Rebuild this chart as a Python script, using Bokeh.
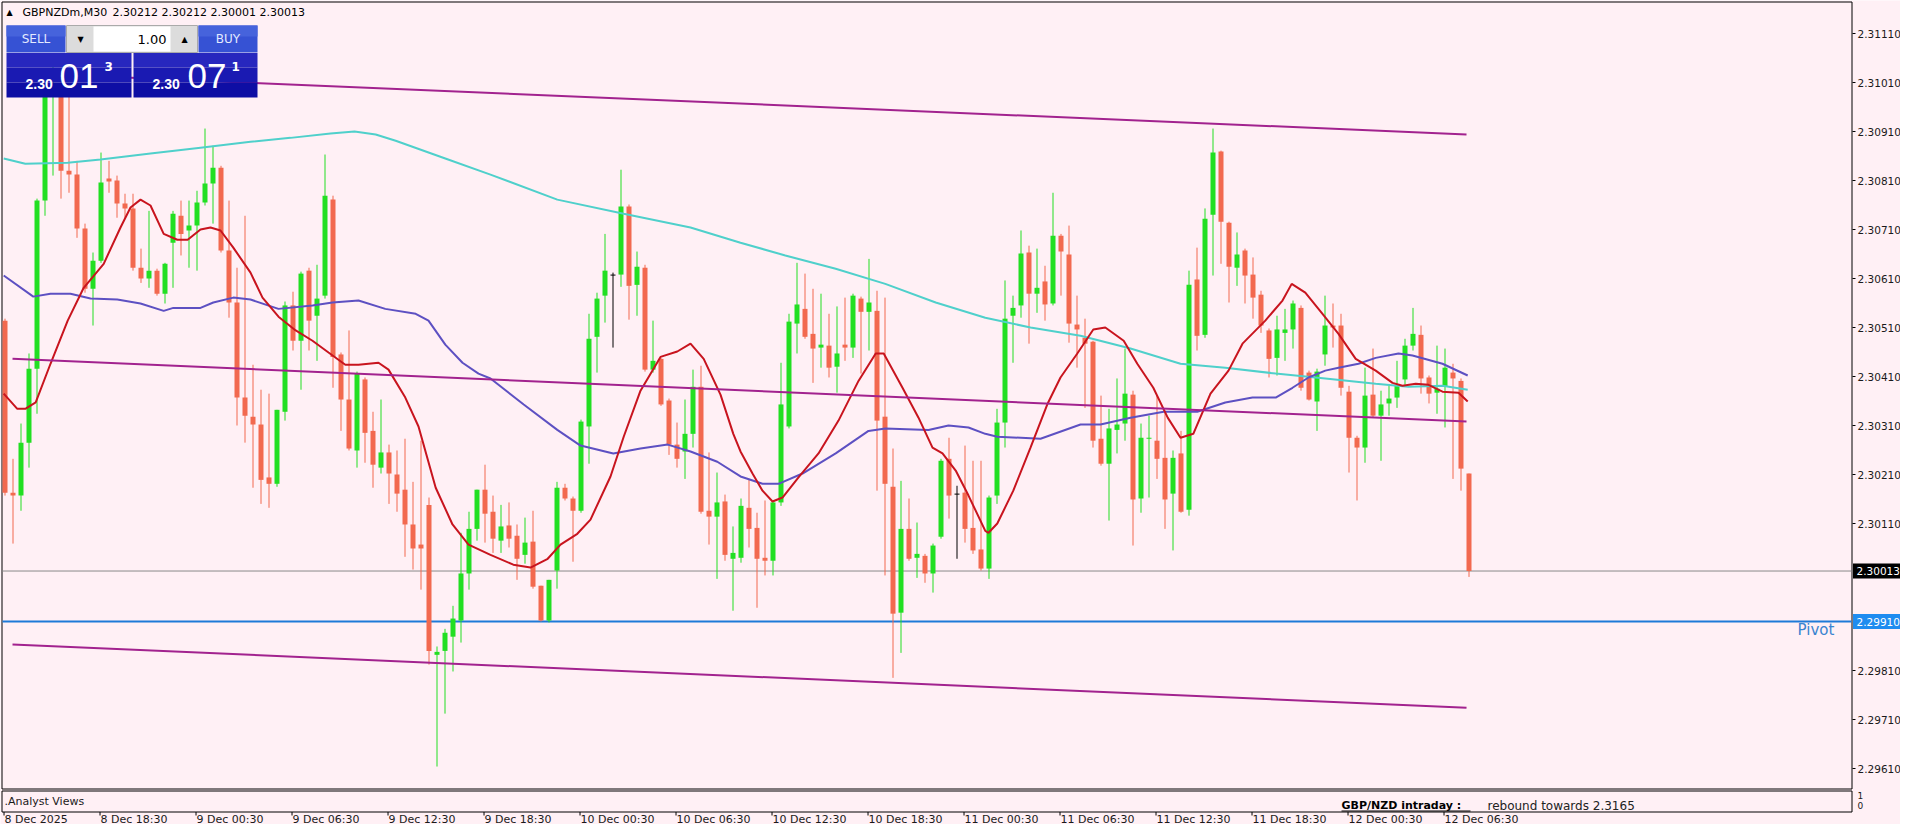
import numpy as np
from bokeh.plotting import figure
from bokeh.models import Range1d, ColumnDataSource
from bokeh.core.properties import value
from bokeh.embed import file_html
from bokeh.resources import INLINE

# ---------------- data ----------------
symbol = "GBPNZDm,M30"

open_ = [2.30524, 2.30173, 2.30167, 2.30275, 2.30426, 2.30769, 2.30993, 2.30997, 2.30830, 2.30822,
         2.30712, 2.30589, 2.30646, 2.30814, 2.30810, 2.30763, 2.30753, 2.30632, 2.30610, 2.30626,
         2.30579, 2.30683, 2.30738, 2.30708, 2.30718, 2.30765, 2.30804, 2.30836, 2.30667, 2.30561,
         2.30367, 2.30328, 2.30312, 2.30204, 2.30191, 2.30338, 2.30555, 2.30483, 2.30626, 2.30534,
         2.30575, 2.30771, 2.30455, 2.30363, 2.30259, 2.30404, 2.30299, 2.30224, 2.30255, 2.30210,
         2.30179, 2.30108, 2.30067, 2.30148, 2.29842, 2.29850, 2.29879, 2.29912, 2.30008, 2.30099,
         2.30179, 2.30134, 2.30075, 2.30106, 2.30085, 2.30046, 2.30073, 2.29983, 2.29912, 2.30014,
         2.30183, 2.30161, 2.30136, 2.30308, 2.30491, 2.30575, 2.30618, 2.30618, 2.30757, 2.30597,
         2.30632, 2.30424, 2.30446, 2.30361, 2.30271, 2.30257, 2.30293, 2.30389, 2.30136, 2.30124,
         2.30155, 2.30038, 2.30040, 2.30142, 2.30101, 2.30040, 2.30034, 2.30153, 2.30308, 2.30518,
         2.30548, 2.30497, 2.30469, 2.30473, 2.30430, 2.30475, 2.30469, 2.30569, 2.30542, 2.30544,
         2.30328, 2.30185, 2.29928, 2.30099, 2.30040, 2.30044, 2.30008, 2.30083, 2.30242, 2.30171,
         2.30173, 2.30101, 2.30057, 2.30018, 2.30167, 2.30316, 2.30534, 2.30555, 2.30663, 2.30579,
         2.30604, 2.30559, 2.30697, 2.30659, 2.30516, 2.30489, 2.30481, 2.30283, 2.30232, 2.30301,
         2.30314, 2.30373, 2.30161, 2.30283, 2.30279, 2.30244, 2.30171, 2.30253, 2.30138, 2.30608,
         2.30495, 2.30740, 2.30869, 2.30724, 2.30632, 2.30667, 2.30618, 2.30577, 2.30504, 2.30448,
         2.30499, 2.30506, 2.30550, 2.30418, 2.30359, 2.30455, 2.30514, 2.30514, 2.30379, 2.30285,
         2.30265, 2.30373, 2.30330, 2.30355, 2.30367, 2.30404, 2.30473, 2.30495, 2.30408, 2.30377,
         2.30389, 2.30418, 2.30401, 2.30212]

high = [2.30528, 2.30242, 2.30314, 2.30457, 2.30773, 2.31034, 2.31044, 2.31014, 2.30983, 2.30850,
        2.30722, 2.30663, 2.30867, 2.30850, 2.30820, 2.30783, 2.30783, 2.30671, 2.30748, 2.30630,
        2.30642, 2.30748, 2.30769, 2.30769, 2.30789, 2.30916, 2.30881, 2.30840, 2.30769, 2.30632,
        2.30738, 2.30434, 2.30383, 2.30375, 2.30342, 2.30563, 2.30583, 2.30624, 2.30632, 2.30638,
        2.30863, 2.30779, 2.30459, 2.30504, 2.30420, 2.30408, 2.30338, 2.30363, 2.30271, 2.30259,
        2.30283, 2.30195, 2.30279, 2.30163, 2.29859, 2.29895, 2.29942, 2.30091, 2.30134, 2.30179,
        2.30230, 2.30167, 2.30148, 2.30153, 2.30108, 2.30122, 2.30136, 2.29983, 2.29995, 2.30195,
        2.30191, 2.30165, 2.30322, 2.30538, 2.30581, 2.30701, 2.30622, 2.30832, 2.30761, 2.30665,
        2.30638, 2.30524, 2.30448, 2.30365, 2.30316, 2.30363, 2.30424, 2.30432, 2.30255, 2.30214,
        2.30169, 2.30104, 2.30161, 2.30201, 2.30132, 2.30157, 2.30157, 2.30438, 2.30538, 2.30642,
        2.30620, 2.30589, 2.30579, 2.30538, 2.30553, 2.30571, 2.30579, 2.30573, 2.30650, 2.30585,
        2.30571, 2.30263, 2.30197, 2.30161, 2.30112, 2.30048, 2.30069, 2.30242, 2.30285, 2.30187,
        2.30269, 2.30238, 2.30238, 2.30167, 2.30344, 2.30606, 2.30575, 2.30708, 2.30677, 2.30671,
        2.30636, 2.30785, 2.30701, 2.30718, 2.30575, 2.30528, 2.30483, 2.30371, 2.30344, 2.30406,
        2.30467, 2.30381, 2.30314, 2.30330, 2.30371, 2.30336, 2.30259, 2.30299, 2.30626, 2.30673,
        2.30753, 2.30916, 2.30871, 2.30726, 2.30704, 2.30671, 2.30653, 2.30585, 2.30508, 2.30534,
        2.30548, 2.30565, 2.30555, 2.30422, 2.30426, 2.30575, 2.30559, 2.30538, 2.30391, 2.30289,
        2.30428, 2.30467, 2.30381, 2.30391, 2.30442, 2.30487, 2.30550, 2.30514, 2.30412, 2.30473,
        2.30467, 2.30436, 2.30406, 2.30212]

low = [2.30167, 2.30069, 2.30136, 2.30224, 2.30334, 2.30738, 2.30820, 2.30773, 2.30785, 2.30693,
       2.30581, 2.30514, 2.30642, 2.30785, 2.30734, 2.30734, 2.30626, 2.30601, 2.30591, 2.30575,
       2.30559, 2.30591, 2.30657, 2.30632, 2.30626, 2.30759, 2.30722, 2.30663, 2.30530, 2.30310,
       2.30275, 2.30183, 2.30150, 2.30142, 2.30185, 2.30320, 2.30463, 2.30383, 2.30463, 2.30442,
       2.30569, 2.30387, 2.30299, 2.30259, 2.30224, 2.30234, 2.30183, 2.30212, 2.30150, 2.30134,
       2.30042, 2.30016, 2.29975, 2.29822, 2.29614, 2.29722, 2.29808, 2.29867, 2.29975, 2.30075,
       2.30071, 2.30050, 2.30050, 2.30061, 2.29995, 2.30028, 2.29977, 2.29910, 2.29908, 2.29977,
       2.30157, 2.30032, 2.30132, 2.30232, 2.30418, 2.30520, 2.30469, 2.30593, 2.30526, 2.30534,
       2.30420, 2.30418, 2.30350, 2.30250, 2.30224, 2.30201, 2.30265, 2.30130, 2.30067, 2.29997,
       2.30034, 2.29932, 2.30030, 2.30061, 2.29938, 2.30004, 2.30004, 2.30146, 2.30304, 2.30457,
       2.30487, 2.30397, 2.30428, 2.30408, 2.30377, 2.30442, 2.30448, 2.30416, 2.30463, 2.30177,
       2.30004, 2.29795, 2.29846, 2.30034, 2.29999, 2.29989, 2.29969, 2.30079, 2.30120, 2.30038,
       2.30071, 2.30048, 2.30014, 2.29997, 2.30150, 2.30265, 2.30438, 2.30530, 2.30477, 2.30540,
       2.30524, 2.30555, 2.30575, 2.30479, 2.30428, 2.30346, 2.30265, 2.30228, 2.30116, 2.30253,
       2.30279, 2.30065, 2.30132, 2.30163, 2.30201, 2.30099, 2.30055, 2.30132, 2.30126, 2.30463,
       2.30489, 2.30616, 2.30640, 2.30561, 2.30595, 2.30559, 2.30528, 2.30499, 2.30408, 2.30412,
       2.30442, 2.30467, 2.30381, 2.30361, 2.30299, 2.30432, 2.30469, 2.30371, 2.30214, 2.30157,
       2.30234, 2.30326, 2.30238, 2.30330, 2.30346, 2.30393, 2.30463, 2.30375, 2.30355, 2.30334,
       2.30306, 2.30201, 2.30177, 2.30001]

close = [2.30173, 2.30167, 2.30275, 2.30426, 2.30769, 2.30993, 2.31004, 2.30830, 2.30822, 2.30712,
         2.30589, 2.30646, 2.30806, 2.30808, 2.30763, 2.30753, 2.30632, 2.30610, 2.30626, 2.30579,
         2.30640, 2.30742, 2.30701, 2.30718, 2.30765, 2.30804, 2.30836, 2.30667, 2.30561, 2.30367,
         2.30330, 2.30312, 2.30199, 2.30191, 2.30342, 2.30555, 2.30483, 2.30620, 2.30524, 2.30569,
         2.30779, 2.30450, 2.30363, 2.30263, 2.30416, 2.30295, 2.30230, 2.30255, 2.30212, 2.30171,
         2.30108, 2.30059, 2.30059, 2.29850, 2.29848, 2.29887, 2.29916, 2.30008, 2.30099, 2.30179,
         2.30130, 2.30079, 2.30104, 2.30079, 2.30038, 2.30071, 2.29981, 2.29912, 2.29995, 2.30183,
         2.30161, 2.30136, 2.30318, 2.30487, 2.30569, 2.30626, 2.30618, 2.30757, 2.30595, 2.30634,
         2.30424, 2.30442, 2.30353, 2.30271, 2.30242, 2.30293, 2.30389, 2.30134, 2.30124, 2.30153,
         2.30046, 2.30050, 2.30146, 2.30099, 2.30038, 2.30034, 2.30153, 2.30353, 2.30522, 2.30557,
         2.30491, 2.30467, 2.30475, 2.30428, 2.30457, 2.30469, 2.30575, 2.30542, 2.30561, 2.30320,
         2.30191, 2.29926, 2.30099, 2.30038, 2.30048, 2.30008, 2.30065, 2.30238, 2.30167, 2.30171,
         2.30099, 2.30055, 2.30018, 2.30163, 2.30316, 2.30528, 2.30550, 2.30661, 2.30579, 2.30591,
         2.30557, 2.30697, 2.30665, 2.30518, 2.30506, 2.30477, 2.30279, 2.30232, 2.30304, 2.30312,
         2.30375, 2.30159, 2.30285, 2.30285, 2.30242, 2.30159, 2.30244, 2.30134, 2.30597, 2.30493,
         2.30732, 2.30867, 2.30726, 2.30634, 2.30659, 2.30616, 2.30571, 2.30514, 2.30446, 2.30506,
         2.30506, 2.30559, 2.30387, 2.30363, 2.30420, 2.30514, 2.30510, 2.30387, 2.30285, 2.30265,
         2.30371, 2.30330, 2.30353, 2.30365, 2.30391, 2.30473, 2.30497, 2.30406, 2.30375, 2.30385,
         2.30428, 2.30406, 2.30222, 2.30013]

# moving averages (bar position, price)
ma_fast_x = [-0.1, 1.6, 2.6, 3.9, 5.75, 7.9, 9.9, 12.4, 14.5, 15.75, 17, 18.25, 19.9, 21.6, 22.9, 24.5, 25.75, 27,
             28.6, 30.75, 32.25, 34.25, 36.4, 38.5, 40.5, 42.6, 44.25, 46.75, 48, 50.1, 51.75, 53.9, 56, 58,
             60.75, 63.6, 65.75, 67.9, 69.5, 71.6, 73.25, 75.75, 77.4, 79.5, 82, 84.1, 85.75, 87.4, 89.5, 91.1,
             92, 93.5, 94.75, 96, 97.25, 99.25, 101.75, 104.25, 106.75, 108.9, 109.9, 112.25, 114.25, 116,
             117.25, 118.9, 120.5, 122.6, 123, 124.1, 126.1, 128.25, 130.4, 132, 134.1, 136.1, 137.6, 139.9,
             141.6, 143.6, 145.4, 147, 148.6, 150.75, 153, 154.75, 157.6, 159.75, 160.9, 162.6, 164.75,
             166.75, 168.9, 171.4, 173.5, 174.75, 176.4, 178, 179.75, 181.75, 182.9]
ma_fast_y = [2.30375, 2.30344, 2.30344, 2.30357, 2.30436, 2.30524, 2.30591, 2.30640, 2.30714, 2.30755,
             2.30771, 2.30759, 2.30701, 2.30689, 2.30689, 2.30710, 2.30714, 2.30708, 2.30673, 2.30622,
             2.30571, 2.30532, 2.30504, 2.30483, 2.30459, 2.30434, 2.30434, 2.30438, 2.30424, 2.30367,
             2.30308, 2.30183, 2.30108, 2.30067, 2.30046, 2.30026, 2.30020, 2.30038, 2.30067, 2.30089,
             2.30118, 2.30206, 2.30287, 2.30381, 2.30450, 2.30461, 2.30477, 2.30446, 2.30373, 2.30293,
             2.30257, 2.30212, 2.30177, 2.30155, 2.30163, 2.30204, 2.30253, 2.30320, 2.30401, 2.30457,
             2.30457, 2.30387, 2.30326, 2.30265, 2.30253, 2.30218, 2.30167, 2.30095, 2.30091, 2.30110,
             2.30177, 2.30265, 2.30355, 2.30408, 2.30457, 2.30506, 2.30510, 2.30483, 2.30436, 2.30387,
             2.30326, 2.30285, 2.30293, 2.30375, 2.30422, 2.30477, 2.30524, 2.30565, 2.30599, 2.30581,
             2.30538, 2.30497, 2.30446, 2.30422, 2.30397, 2.30391, 2.30395, 2.30393, 2.30379, 2.30377,
             2.30359]

ma_mid_x = [-0.1, 3.6, 5.75, 8.25, 10.75, 14.1, 17, 19.9, 21.1, 24.5, 26.1, 28.6, 30.75, 34.25, 38.5, 41,
            44.25, 47.6, 51.4, 53, 55.1, 57.25, 59.25, 60.75, 64.9, 69.1, 72, 76.1, 79.5, 82.9, 85.75, 89.1,
            92, 94.75, 96.75, 99.75, 103.9, 108, 110.1, 115.5, 118, 120.5, 122.6, 124.1, 129.5, 134.5, 137,
            140.75, 144.9, 149.1, 152.6, 156, 158.9, 161, 163, 165.1, 166.75, 169.25, 171.4, 174.25, 176,
            179.75, 182.9]
ma_mid_y = [2.30616, 2.30573, 2.30579, 2.30579, 2.30569, 2.30567, 2.30559, 2.30544, 2.30550, 2.30550,
            2.30561, 2.30571, 2.30567, 2.30548, 2.30555, 2.30561, 2.30565, 2.30548, 2.30538, 2.30524,
            2.30475, 2.30438, 2.30416, 2.30406, 2.30353, 2.30301, 2.30269, 2.30253, 2.30263, 2.30271,
            2.30257, 2.30236, 2.30206, 2.30191, 2.30191, 2.30212, 2.30253, 2.30299, 2.30304, 2.30301,
            2.30310, 2.30306, 2.30293, 2.30287, 2.30283, 2.30312, 2.30312, 2.30326, 2.30338, 2.30338,
            2.30357, 2.30367, 2.30367, 2.30387, 2.30408, 2.30422, 2.30428, 2.30436, 2.30448, 2.30457,
            2.30453, 2.30436, 2.30412]

ma_slow_x = [-0.1, 2.6, 7.9, 12, 18.25, 24.5, 30.75, 35.75, 40.75, 43.75, 46.4, 48.9, 55.1, 60.75, 69.1,
             77.4, 85.75, 92, 97.6, 103.9, 110.1, 116.4, 122.6, 128.25, 134.5, 140.75, 147, 152.6, 158.9,
             165.1, 171.4, 175.5, 179.75, 182.9]
ma_slow_y = [2.30855, 2.30844, 2.30846, 2.30853, 2.30865, 2.30877, 2.30889, 2.30897, 2.30906, 2.30910,
             2.30904, 2.30891, 2.30855, 2.30822, 2.30771, 2.30742, 2.30714, 2.30683, 2.30657, 2.30630,
             2.30599, 2.30561, 2.30530, 2.30510, 2.30493, 2.30467, 2.30436, 2.30428, 2.30416, 2.30406,
             2.30395, 2.30389, 2.30391, 2.30383]

# regression channel (start / end)
channel_x = [1.0, 182.75]
channel_top = [2.31030, 2.30904]
channel_mid = [2.30446, 2.30318]
channel_bot = [2.29863, 2.29734]

pivot = 2.29910

price_ticks = [2.29610, 2.29710, 2.29810, 2.30110, 2.30210, 2.30310, 2.30410, 2.30510,
               2.30610, 2.30710, 2.30810, 2.30910, 2.31010, 2.31110]

time_label_bars = [0, 12, 24, 36, 48, 60, 72, 84, 96, 108, 120, 132, 144, 156, 168, 180]
time_labels = ["8 Dec 2025", "8 Dec 18:30", "9 Dec 00:30", "9 Dec 06:30", "9 Dec 12:30", "9 Dec 18:30",
               "10 Dec 00:30", "10 Dec 06:30", "10 Dec 12:30", "10 Dec 18:30", "11 Dec 00:30",
               "11 Dec 06:30", "11 Dec 12:30", "11 Dec 18:30", "12 Dec 00:30", "12 Dec 06:30"]

sell_quote = ("2.30", "01", "3")
buy_quote = ("2.30", "07", "1")
lot_size = "1.00"

# ---------------- layout helpers (screen pixel -> data) ----------------
def X(px):
    return (px - 4) / 8.0

def Y(py):
    return 2.31110 - (py - 33) / 49000.0

PX = 1.0 / 49000.0
W, H = 1900, 824
BG = "#FFF0F5"
BULL = "#22DF22"
BEAR = "#F2694F"
FONT = "DejaVu Sans"

p = figure(frame_width=W, frame_height=H,
           x_range=Range1d(X(0), X(W)), y_range=Range1d(Y(H), Y(0)),
           output_backend="svg", toolbar_location=None,
           x_axis_location=None, y_axis_location=None,
           min_border_left=0, min_border_right=0, min_border_top=0, min_border_bottom=0,
           background_fill_color=BG, border_fill_color=BG, outline_line_color=None)
p.grid.visible = False

# window frames (main chart and indicator sub-window)
p.quad(left=[X(1.5)], right=[X(1851.5)], top=[Y(1.5)], bottom=[Y(788.5)],
       fill_alpha=0, line_color="black", line_width=1)
p.quad(left=[X(1.5)], right=[X(1851.5)], top=[Y(790.5)], bottom=[Y(811.5)],
       fill_alpha=0, line_color="black", line_width=1)

# bid line + pivot line
p.segment(x0=[X(2)], y0=[close[-1]], x1=[X(1851)], y1=[close[-1]], line_color="#8a8a8a", line_width=1)
p.segment(x0=[X(2)], y0=[pivot], x1=[X(1851)], y1=[pivot], line_color="#1E7AD8", line_width=2)

# candles
o = np.array(open_); h = np.array(high); l = np.array(low); c = np.array(close)
idx = np.arange(len(c))
colors = [BULL if cc > oo else (BEAR if cc < oo else "black") for oo, cc in zip(o, c)]
top = np.maximum(o, c)
bot = np.minimum(o, c)
bot = np.where(top - bot < PX, top - PX, bot)
src = ColumnDataSource(dict(x=idx + 1.0 / 16, h=h, l=l, top=top, bot=bot, color=colors))
p.segment(x0="x", y0="h", x1="x", y1="l", line_color="color", line_width=1, source=src)
p.vbar(x="x", top="top", bottom="bot", width=0.625, fill_color="color", line_color=None, source=src)

# moving averages
p.line(ma_slow_x, ma_slow_y, line_color="#4FD0CB", line_width=2)
p.line(ma_mid_x, ma_mid_y, line_color="#5D50C2", line_width=2)
p.line(ma_fast_x, ma_fast_y, line_color="#C8141E", line_width=2)

# channel
for ys in (channel_top, channel_mid, channel_bot):
    p.line(channel_x, ys, line_color="#A2228E", line_width=2)

# Pivot text
p.text(x=[X(1797)], y=[Y(629)], text=["Pivot"], text_font=value(FONT), text_font_size="15px",
       text_color="#3A84D0", text_align="left", text_baseline="middle")

# ---------------- price scale (right) ----------------
pt = np.array(price_ticks)
p.segment(x0=[X(1852)] * len(pt), y0=pt, x1=[X(1855)] * len(pt), y1=pt, line_color="black", line_width=1)
p.text(x=[X(1857)] * len(pt), y=pt, text=["%.5f" % v for v in pt], text_font=value(FONT),
       text_font_size="10.5px", text_color="#1a1a1a", text_align="left", text_baseline="middle")

# price tags: last bid (black) and pivot (blue)
for yv, bg in ((close[-1], "black"), (pivot, "#1E8CF0")):
    p.quad(left=[X(1852.5)], right=[X(1900)], top=[yv + 7.5 * PX], bottom=[yv - 7.5 * PX],
           fill_color=bg, line_color=None)
    p.text(x=[X(1856)], y=[yv], text=["%.5f" % yv], text_font=value(FONT), text_font_size="10.5px",
           text_color="white", text_align="left", text_baseline="middle")

# sub-window scale
p.text(x=[X(1857), X(1857)], y=[Y(795), Y(805)], text=["1", "0"], text_font=value(FONT),
       text_font_size="9px", text_color="#1a1a1a", text_align="left", text_baseline="middle")

# ---------------- time scale (bottom) ----------------
tb = np.array(time_label_bars, dtype=float)
p.segment(x0=tb - 0.06, y0=[Y(811.5)] * len(tb), x1=tb - 0.06, y1=[Y(815)] * len(tb),
          line_color="black", line_width=1)
lx = [max(b, X(2)) for b in tb]
p.text(x=lx, y=[Y(818.5)] * len(tb), text=time_labels, text_font=value(FONT), text_font_size="11px",
       text_color="#1a1a1a", text_align="left", text_baseline="middle")

# sub window texts
p.text(x=[X(4)], y=[Y(800.5)], text=[".Analyst Views"], text_font=value(FONT), text_font_size="11px",
       text_color="#1a1a1a", text_align="left", text_baseline="middle")
p.text(x=[X(1341)], y=[Y(805)], text=["GBP/NZD intraday :"], text_font=value(FONT),
       text_font_size="11px", text_font_style="bold", text_color="black",
       text_align="left", text_baseline="middle")
p.segment(x0=[X(1341)], y0=[Y(810.5)], x1=[X(1470)], y1=[Y(810.5)], line_color="black", line_width=1)
p.text(x=[X(1487)], y=[Y(805)], text=["rebound towards 2.3165"], text_font=value(FONT),
       text_font_size="12px", text_color="#222222", text_align="left", text_baseline="middle")

# header line
p.text(x=[X(9)], y=[Y(12)], text=["\u25B2"], text_font=value(FONT), text_font_size="8px",
       text_color="black", text_align="center", text_baseline="middle")
p.text(x=[X(22)], y=[Y(12)], text=[symbol], text_font=value(FONT), text_font_size="11px",
       text_color="black", text_align="left", text_baseline="middle")
p.text(x=[X(112)], y=[Y(12)],
       text=["%.5f %.5f %.5f %.5f" % (open_[-1], high[-1], low[-1], close[-1])],
       text_font=value(FONT), text_font_size="11px", text_color="black",
       text_align="left", text_baseline="middle")

# ---------------- one-click trading panel ----------------
BTN = "#3652D4"
p.quad(left=[X(6), X(198)], right=[X(65), X(257)], top=[Y(25), Y(25)], bottom=[Y(52), Y(52)],
       fill_color=BTN, line_color=None)
p.quad(left=[X(6), X(198)], right=[X(65), X(257)], top=[Y(25), Y(25)], bottom=[Y(36), Y(36)],
       fill_color="#4663DC", line_color=None)
p.quad(left=[X(66)], right=[X(197)], top=[Y(25)], bottom=[Y(52)],
       fill_color="#DCDCDC", line_color="#AAAAAA")
p.quad(left=[X(93)], right=[X(170)], top=[Y(26)], bottom=[Y(51)], fill_color="white", line_color=None)
for (t, b, col) in ((52.5, 67, "#2727BE"), (67, 82, "#1A1AB2"), (82, 97, "#0E0EA4")):
    p.quad(left=[X(6), X(133)], right=[X(131), X(257)], top=[Y(t), Y(t)], bottom=[Y(b), Y(b)],
           fill_color=col, line_color=None)

p.text(x=[X(35.5), X(227.5)], y=[Y(38.5), Y(38.5)], text=["SELL", "BUY"], text_font=value(FONT),
       text_font_size="12px", text_color="#E4EAFF", text_align="center", text_baseline="middle")
p.text(x=[X(80), X(184)], y=[Y(38.5), Y(38.5)], text=["\u25BC", "\u25B2"], text_font=value(FONT),
       text_font_size="8px", text_color="black", text_align="center", text_baseline="middle")
p.text(x=[X(166)], y=[Y(38.5)], text=[lot_size], text_font=value(FONT), text_font_size="13px",
       text_color="black", text_align="right", text_baseline="middle")

p.text(x=[X(25), X(152)], y=[Y(83), Y(83)], text=[sell_quote[0], buy_quote[0]],
       text_font=value("Liberation Sans"), text_font_size="14px", text_font_style="bold",
       text_color="white", text_align="left", text_baseline="middle")
p.text(x=[X(59), X(187)], y=[Y(75), Y(75)], text=[sell_quote[1], buy_quote[1]],
       text_font=value("Liberation Sans"), text_font_size="35px", text_color="white",
       text_align="left", text_baseline="middle")
p.text(x=[X(104), X(231)], y=[Y(66), Y(66)], text=[sell_quote[2], buy_quote[2]], text_font=value(FONT),
       text_font_size="12px", text_font_style="bold", text_color="white",
       text_align="left", text_baseline="middle")

open("out.html", "w").write(file_html(p, INLINE))
